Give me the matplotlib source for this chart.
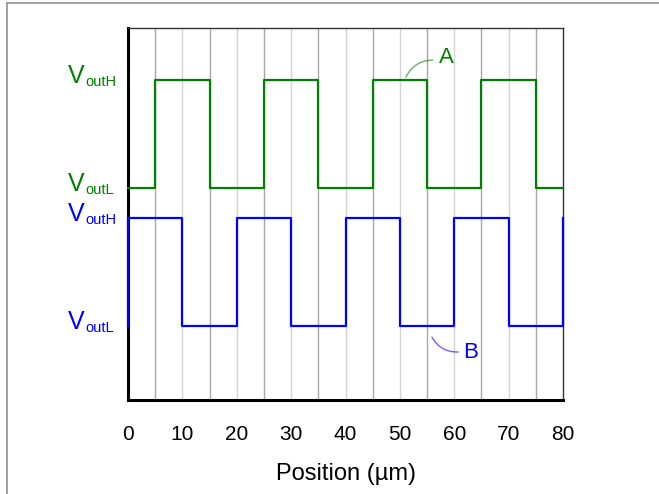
import matplotlib

matplotlib.use("Agg")
import matplotlib.pyplot as plt
from matplotlib.lines import Line2D

plt.rcParams["font.family"] = ["Liberation Sans", "DejaVu Sans"]

# signal levels (arbitrary units on y)
green_levels = [5.7, 8.6]   # VoutL, VoutH for trace A
blue_levels = [2.0, 4.9]    # VoutL, VoutH for trace B

# switching edges (µm) and state after each edge (0 = low, 1 = high)
green_x = [0, 5, 15, 25, 35, 45, 55, 65, 75, 80]
green_state = [0, 1, 0, 1, 0, 1, 0, 1, 0, 0]
blue_x = [0, 0, 10, 20, 30, 40, 50, 60, 70, 80]
blue_state = [0, 1, 0, 1, 0, 1, 0, 1, 0, 1]

x_ticks = [0, 10, 20, 30, 40, 50, 60, 70, 80]
grid_x = list(range(5, 80, 5))

GREEN = "#008000"
BLUE = "#0000ff"

fig = plt.figure(figsize=(6.59, 4.94), dpi=100)
ax = fig.add_axes([128 / 659, 94 / 494, 435 / 659, 372 / 494])

for gx in grid_x:
    col = "#a8a8a8" if gx % 10 else "#d4d4d4"
    ax.axvline(gx, color=col, lw=1.0, zorder=1)

ax.step(green_x, [green_levels[s] for s in green_state], where="post",
        color=GREEN, lw=1.6, zorder=3, clip_on=False)
ax.step(blue_x, [blue_levels[s] for s in blue_state], where="post",
        color=BLUE, lw=1.6, zorder=3, clip_on=False)

ax.set_xlim(0, 80)
ax.set_ylim(0, 10)
ax.set_xticks(x_ticks)
ax.set_xticklabels([str(t) for t in x_ticks], fontsize=15)
ax.tick_params(axis="x", length=0, pad=18)
ax.set_yticks([])
ax.set_xlabel("Position (µm)", fontsize=17, labelpad=14)

for side in ("left", "bottom"):
    ax.spines[side].set_linewidth(2.2)
    ax.spines[side].set_color("black")
for side in ("top", "right"):
    ax.spines[side].set_linewidth(1.0)
    ax.spines[side].set_color("#333333")

# level labels V_outH / V_outL
labels = [
    (green_levels[1], "outH", GREEN),
    (green_levels[0], "outL", GREEN),
    (blue_levels[1], "outH", BLUE),
    (blue_levels[0], "outL", BLUE),
]
for y, sub, col in labels:
    ax.annotate("V", xy=(0, y), xycoords=("axes fraction", "data"),
                xytext=(-31, -2.2), textcoords="offset points",
                ha="right", va="baseline", fontsize=18, color=col)
    ax.annotate(sub, xy=(0, y), xycoords=("axes fraction", "data"),
                xytext=(-30.5, -4.3), textcoords="offset points",
                ha="left", va="baseline", fontsize=10.5, color=col)

# trace labels with curved leaders
ax.annotate("", xy=(56.1, 9.14), xytext=(51.1, 8.68),
            arrowprops=dict(arrowstyle="-", color=GREEN, alpha=0.6, lw=1.0,
                            connectionstyle="arc3,rad=-0.3",
                            shrinkA=0, shrinkB=0))
ax.text(58.6, 9.2, "A", color=GREEN, fontsize=16, ha="center", va="center")
ax.annotate("", xy=(60.7, 1.29), xytext=(55.9, 1.69),
            arrowprops=dict(arrowstyle="-", color=BLUE, alpha=0.6, lw=1.0,
                            connectionstyle="arc3,rad=0.3",
                            shrinkA=0, shrinkB=0))
ax.text(63.0, 1.28, "B", color=BLUE, fontsize=16, ha="center", va="center")

# outer frame (top and left edges)
fig.add_artist(Line2D([7 / 659, 1], [1 - 3.5 / 494, 1 - 3.5 / 494],
                      color="#999999", lw=1.3, transform=fig.transFigure))
fig.add_artist(Line2D([7 / 659, 7 / 659], [0, 1 - 3.5 / 494],
                      color="#999999", lw=1.3, transform=fig.transFigure))

fig.savefig("out.png", dpi=100)
